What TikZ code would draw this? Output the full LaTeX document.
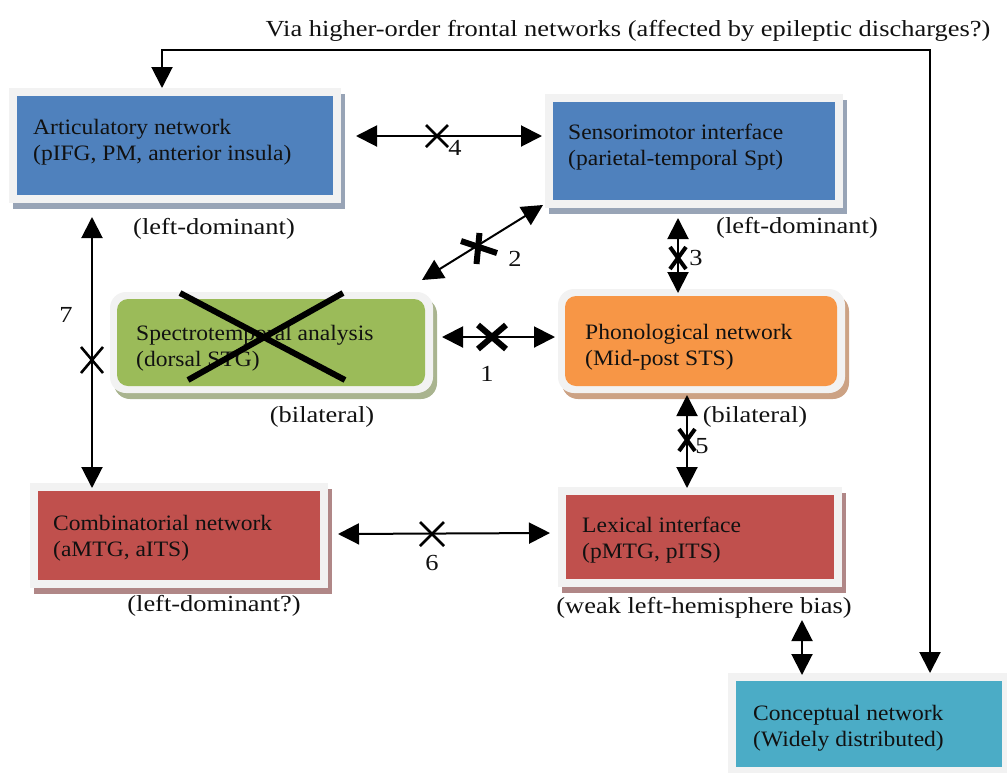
\documentclass[tikz,border=0pt]{standalone}
\usepackage{fontspec}
\setmainfont{Liberation Serif}
\newfontfamily\boxfont[FakeStretch=1.07]{Liberation Serif}
\newfontfamily\labfont[FakeStretch=1.15]{Liberation Serif}
\usetikzlibrary{arrows.meta,shadows}

\definecolor{framegray}{HTML}{F2F2F2}
\definecolor{netblue}{HTML}{4F81BD}
\definecolor{blueshade}{HTML}{98A4B6}
\definecolor{netgreen}{HTML}{9BBB59}
\definecolor{greenshade}{HTML}{A9B48F}
\definecolor{netorange}{HTML}{F79646}
\definecolor{orangeshade}{HTML}{CCA284}
\definecolor{netred}{HTML}{C0504D}
\definecolor{redshade}{HTML}{B08787}
\definecolor{netteal}{HTML}{4BACC6}
\definecolor{inkblack}{HTML}{111111}

\tikzset{
  x=1pt, y=-1pt,
  every node/.style={text=inkblack},
  txt/.style={font=\labfont\fontsize{23}{27}\selectfont, inner sep=0pt},
  boxtext/.style={font=\boxfont\fontsize{22}{25.5}\selectfont, inner sep=0pt, align=left, anchor=west},
  netbox/.style={fill=framegray, inner sep=0pt, outer sep=0pt,
    path picture={\fill[#1] ([shift={(8pt,8pt)}]path picture bounding box.south west)
      rectangle ([shift={(-8pt,-8pt)}]path picture bounding box.north east);}},
  roundbox/.style={fill=framegray, inner sep=0pt, outer sep=0pt, rounded corners=16pt,
    path picture={\fill[#1, rounded corners=11pt] ([shift={(7pt,7pt)}]path picture bounding box.south west)
      rectangle ([shift={(-8pt,-7pt)}]path picture bounding box.north east);}},
  shade/.style={drop shadow={shadow xshift=4pt, shadow yshift=-6pt, fill=#1, opacity=1}},
  link/.style={line width=2pt, draw=black, {Triangle[length=21pt,width=21pt]}-{Triangle[length=21pt,width=21pt]}},
  cut/.style={line width=2.6pt, draw=black},
  boldcut/.style={line width=4pt, draw=black},
  heavycut/.style={line width=6pt, draw=black},
}

\begin{document}
\begin{tikzpicture}
\useasboundingbox (0,0) rectangle (1007,772);

% network boxes
\node[netbox=netblue, shade=blueshade, minimum width=332pt, minimum height=115pt] (art) at (175,145.5) {};
\node[netbox=netblue, shade=blueshade, minimum width=298pt, minimum height=114pt] (sen) at (694,151) {};
\node[roundbox=netgreen, shade=greenshade, minimum width=323pt, minimum height=101pt] (spec) at (271.5,342.5) {};
\node[roundbox=netorange, shade=orangeshade, minimum width=287pt, minimum height=104pt] (phon) at (701.5,341) {};
\node[netbox=netred, shade=redshade, minimum width=298pt, minimum height=105pt] (comb) at (179,535.5) {};
\node[netbox=netred, shade=redshade, minimum width=284pt, minimum height=100pt] (lex) at (700,537) {};
\node[netbox=netteal, minimum width=282pt, minimum height=102pt] (con) at (869,724) {};

% box contents
\node[boxtext] (artT) at (33,142) {Articulatory network\\(pIFG, PM, anterior insula)};
\node[boxtext] (senT) at (568,147) {Sensorimotor interface\\(parietal-temporal Spt)};
\node[boxtext] (specT) at (136,348) {Spectrotemporal analysis\\(dorsal STG)};
\node[boxtext] (phonT) at (585,347) {Phonological network\\(Mid-post STS)};
\node[boxtext] (combT) at (53,538) {Combinatorial network\\(aMTG, aITS)};
\node[boxtext] (lexT) at (582,540) {Lexical interface\\(pMTG, pITS)};
\node[boxtext] (conT) at (753,728) {Conceptual network\\(Widely distributed)};

% lesion mark over the spectrotemporal stage
\draw[heavycut] (180,293) -- (345,380);
\draw[heavycut] (343,293) -- (188,380);

% lateralisation notes
\node[txt] (latArt) at (214,229) {(left-dominant)};
\node[txt] (latSen) at (797,228) {(left-dominant)};
\node[txt] (latSpec) at (322,417) {(bilateral)};
\node[txt] (latPhon) at (755,417) {(bilateral)};
\node[txt] (latComb) at (214,606) {(left-dominant?)};
\node[txt] (latLex) at (704,608) {(weak left-hemisphere bias)};

% frontal route
\node[txt] (via) at (628,31) {Via higher-order frontal networks (affected by epileptic discharges?)};
\coordinate (frL) at (162,50);
\coordinate (frR) at (930,50);
\draw[link] (art.north -| frL) -- (frL) -- (frR) -- (con.north -| frR);

% connection 4
\draw[link] ([shift={(15,-9.5)}]art.east) -- ([shift={(-3,-15)}]sen.west);
\draw[cut] (426,125) -- (448,147) (448,125) -- (426,147);
\node[txt] (n4) at (455,148) {4};

% connection 2
\draw[link] ([shift={(-11,-12)}]spec.north east) -- ([shift={(-2,-3)}]sen.south west);
\draw[line width=6pt] (479.5,233) -- (476.5,264);
\draw[line width=6pt] (461,241) -- (497,253);
\node[txt] (n2) at (515,259) {2};

% connection 3
\draw[link] ([shift={(-16,10)}]sen.south) -- ([shift={(-23.5,4)}]phon.north);
\draw[boldcut] (670,247) -- (686,269) (686,247) -- (670,269);
\node[txt] (n3) at (696,258) {3};

% connection 1
\draw[link] ([shift={(9,-5.5)}]spec.east) -- ([shift={(-3,-4)}]phon.west);
\draw[heavycut] (478,325) -- (506,349) (506,325) -- (478,349);
\node[txt] (n1) at (487,374) {1};

% connection 5
\draw[link] ([shift={(-14.5,2)}]phon.south) -- ([shift={(-13,1)}]lex.north);
\draw[boldcut] (679,429) -- (695,451) (695,429) -- (679,451);
\node[txt] (n5) at (702,446) {5};

% connection 7
\draw[link] ([shift={(-83,14)}]art.south) -- ([shift={(-87,5)}]comb.north);
\draw[cut] (81,347) -- (103,373) (103,347) -- (81,373);
\node[txt] (n7) at (66,315) {7};

% connection 6
\draw[link] ([shift={(10,-1.5)}]comb.east) -- ([shift={(-8,-4)}]lex.west);
\draw[cut] (420,522) -- (444,546) (444,522) -- (420,546);
\node[txt] (n6) at (432,563) {6};

% lexical -- conceptual
\draw[link] ([shift={(102,33)}]lex.south) -- ([shift={(-67,2)}]con.north);
\end{tikzpicture}
\end{document}
